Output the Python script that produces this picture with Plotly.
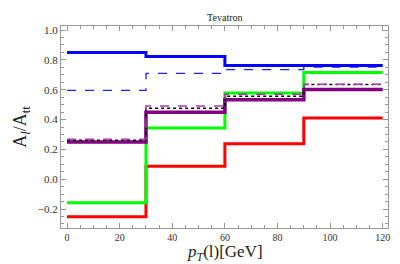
import plotly.graph_objects as go

bin_edges = [0, 30, 60, 90, 120]
blue_solid = [0.850, 0.822, 0.763, 0.763]
blue_dashed = [0.595, 0.709, 0.735, 0.752]
green_solid = [-0.158, 0.344, 0.578, 0.716]
red_solid = [-0.251, 0.087, 0.238, 0.410]
purple_solid = [0.249, 0.449, 0.533, 0.602]
purple_dashed = [0.268, 0.490, 0.569, 0.637]
black_dotted = [0.262, 0.476, 0.556, 0.635]

series = [
    (red_solid, "#FF0000", 3, "solid"),
    (green_solid, "#00FF00", 3, "solid"),
    (purple_solid, "#800080", 3.5, "solid"),
    (black_dotted, "#000000", 1.5, "dot"),
    (purple_dashed, "#A040A0", 1.5, "dash"),
    (blue_dashed, "#2020FF", 1.3, "dash"),
    (blue_solid, "#0000FF", 3, "solid"),
]

fig = go.Figure()
for vals, col, w, dash in series:
    fig.add_trace(go.Scatter(
        x=bin_edges, y=list(vals) + [vals[-1]],
        mode="lines", line=dict(color=col, width=w, dash=dash, shape="hv"),
        showlegend=False, hoverinfo="skip"))

serif = "Liberation Serif, Times New Roman, serif"
axis_common = dict(
    showline=True, linecolor="#999999", linewidth=1, mirror="ticks",
    ticks="inside", ticklen=5, tickcolor="#999999", tickwidth=1,
    showgrid=False, zeroline=False,
)
fig.update_xaxes(range=[-2.3, 122], tickvals=[0, 20, 40, 60, 80, 100, 120],
                 tickfont=dict(family=serif, size=10, color="#333333"),
                 minor=dict(ticks="inside", ticklen=3, dtick=5, tick0=0, tickcolor="#999999", showgrid=False),
                 **axis_common)
fig.update_yaxes(range=[-0.327, 1.027], tickvals=[-0.2, 0.0, 0.2, 0.4, 0.6, 0.8, 1.0], tickformat=".1f",
                 tickfont=dict(family=serif, size=11, color="#333333"),
                 minor=dict(ticks="inside", ticklen=3, dtick=0.05, tick0=0, tickcolor="#999999", showgrid=False),
                 title=dict(text="A<sub><i>l</i></sub>/A<sub>tt</sub>", font=dict(family=serif, size=18, color="#222222"), standoff=6),
                 **axis_common)
fig.add_annotation(text="<i>p<sub>T</sub></i>(l)[GeV]", xref="paper", yref="paper",
                   x=0.5, y=-0.19, xanchor="center", yanchor="bottom", showarrow=False,
                   font=dict(family=serif, size=17, color="#222222"))
fig.update_layout(
    width=400, height=264,
    margin=dict(l=53, r=20, t=18, b=44),
    paper_bgcolor="white", plot_bgcolor="white",
    title=dict(text="Tevatron", x=0.542, xanchor="center", y=0.978, yanchor="top",
               font=dict(family=serif, size=10, color="#222222")),
)
fig.write_html("out.html")
